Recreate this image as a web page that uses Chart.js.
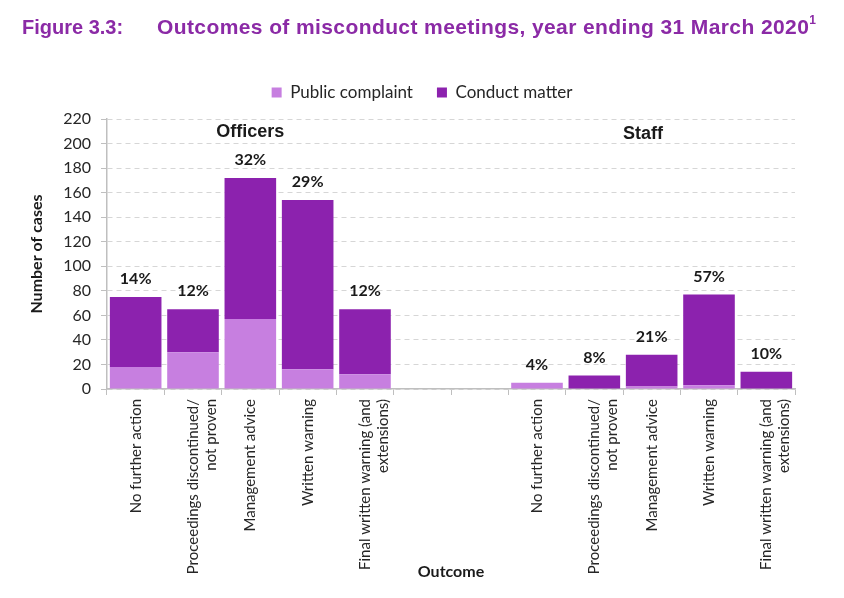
<!DOCTYPE html>
<html>
<head>
<meta charset="utf-8">
<script src="https://cdn.jsdelivr.net/npm/chart.js@4.4.1/dist/chart.umd.min.js"></script>
<style>
  html, body { margin: 0; padding: 0; background: #fff; }
  #wrap { position: relative; width: 844px; height: 598px; }
  .ttl { position: absolute; top: 15px; font-family: "Liberation Sans", Arial, sans-serif; font-weight: bold; font-size: 21px; color: #8B2AA6; white-space: pre; }
  #t1 { left: 22px; font-size: 20px; top: 16px; }
  #t2 { left: 157px; letter-spacing: 0.4px; }
  #t2 sup { font-size: 12px; position: relative; top: -2px; letter-spacing: 0; }
  canvas { position: absolute; left: 0; top: 0; }
</style>
</head>
<body>
<div id="wrap">
  <canvas id="c" width="844" height="598"></canvas>
  <div class="ttl" id="t1">Figure 3.3:</div>
  <div class="ttl" id="t2">Outcomes of misconduct meetings, year ending 31 March 2020<sup>1</sup></div>
</div>
<script>
const categories = [
  'No further action', ['Proceedings discontinued/', 'not proven'], 'Management advice', 'Written warning', ['Final written warning (and', 'extensions)'],
  '', '',
  'No further action', ['Proceedings discontinued/', 'not proven'], 'Management advice', 'Written warning', ['Final written warning (and', 'extensions)']
];
const publicComplaint = [18, 30, 57, 16, 12, null, null, 5, 0, 2, 3, 0];
const conductMatter   = [57, 35, 115, 138, 53, null, null, 0, 11, 26, 74, 14];
const pctLabels = ['14%', '12%', '32%', '29%', '12%', '', '', '4%', '8%', '21%', '57%', '10%'];
const groupLabels = [ { text: 'Officers', x: 2, y: 209 }, { text: 'Staff', x: 8.85, y: 208 } ];
const yTicks = [0, 20, 40, 60, 80, 100, 120, 140, 160, 180, 200, 220];

const FONT = 'Lato, "Open Sans", sans-serif';
const DARK = '#8C22AE';
const LIGHT = '#C77FE0';
const LEGEND_EXTRA = 8;

const legendSpacing = {
  id: 'legendSpacing',
  afterInit(chart) {
    const lg = chart.legend;
    if (!lg) return;
    const orig = lg.fit;
    lg.fit = function () { orig.apply(this, arguments); this.height += LEGEND_EXTRA; };
  },
  afterLayout(chart) {
    const lg = chart.legend;
    if (!lg) return;
    lg.left = 0;
    lg.right = chart.width;
    lg.width = chart.width;
  }
};

const labelPlugin = {
  id: 'labels',
  afterDatasetsDraw(chart) {
    const ctx = chart.ctx;
    const xs = chart.scales.x, ys = chart.scales.y;
    ctx.save();
    ctx.fillStyle = '#1a1a1a';
    ctx.textAlign = 'center';
    ctx.textBaseline = 'middle';
    ctx.font = 'bold 16px ' + FONT;
    pctLabels.forEach((t, i) => {
      if (!t) return;
      const total = (publicComplaint[i] || 0) + (conductMatter[i] || 0);
      ctx.fillText(t, xs.getPixelForValue(i), ys.getPixelForValue(total) - 18);
    });
    ctx.font = 'bold 18px "Liberation Sans", Arial, sans-serif';
    groupLabels.forEach(g => {
      ctx.fillText(g.text, xs.getPixelForValue(g.x), ys.getPixelForValue(g.y));
    });
    ctx.font = 'bold 16px ' + FONT;
    ctx.fillText('Outcome', xs.getPixelForValue(5.5), 572);
    ctx.restore();
  }
};

new Chart(document.getElementById('c'), {
  type: 'bar',
  data: {
    labels: categories,
    datasets: [
      { label: 'Public complaint', data: publicComplaint, backgroundColor: LIGHT, borderWidth: 0 },
      { label: 'Conduct matter', data: conductMatter, backgroundColor: DARK, borderWidth: 0 }
    ]
  },
  options: {
    responsive: false,
    animation: false,
    devicePixelRatio: 1,
    layout: { padding: { top: 60, right: 49, left: 0, bottom: 0 } },
    datasets: { bar: { barPercentage: 0.9, categoryPercentage: 1.0 } },
    plugins: {
      legend: {
        position: 'top',
        labels: { boxWidth: 10, boxHeight: 10, padding: 24, color: '#262626', font: { family: FONT, size: 17 } }
      },
      tooltip: { enabled: false }
    },
    scales: {
      x: {
        stacked: true,
        afterFit(scale) { scale.height = 209; },
        grid: { drawOnChartArea: false, drawTicks: true, tickLength: 6, color: '#bfbfbf', offset: true },
        border: { display: true, color: '#bfbfbf', width: 1.5 },
        ticks: { autoSkip: false, maxRotation: 90, minRotation: 90, padding: 4, color: '#262626', font: { family: FONT, size: 15 } }
      },
      y: {
        stacked: true,
        min: 0, max: 220,
        afterFit(scale) { scale.width = 107; },
        afterBuildTicks(scale) { scale.ticks = yTicks.map(v => ({ value: v })); },
        grid: { color: '#d6d6d6', tickColor: '#bfbfbf', tickLength: 6, tickBorderDash: [] },
        border: { display: true, color: '#bfbfbf', width: 1.5, dash: [5, 4] },
        ticks: { padding: 10, color: '#262626', font: { family: FONT, size: 16 } },
        title: { display: true, text: 'Number of cases', color: '#1a1a1a', font: { family: FONT, size: 16, weight: 'bold' }, padding: { top: 27, bottom: 0 } }
      }
    }
  },
  plugins: [legendSpacing, labelPlugin]
});
</script>
</body>
</html>
